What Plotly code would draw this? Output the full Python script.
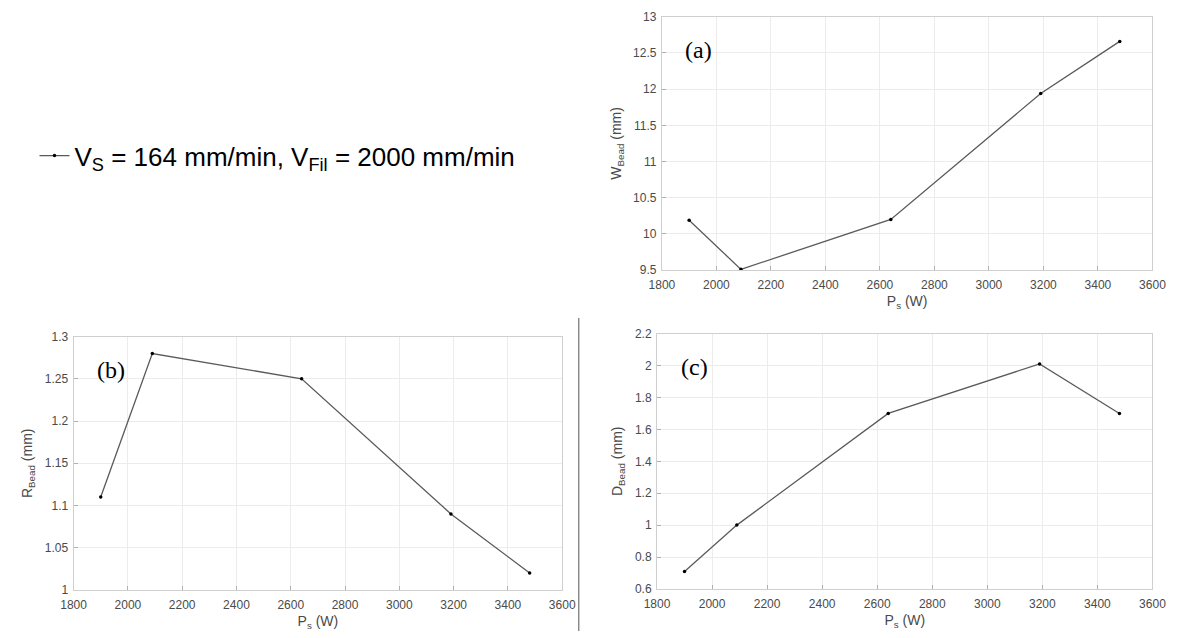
import plotly.graph_objects as go

# ---- data ----
ps_w = [1900, 2090, 2640, 3190, 3480]
w_bead = [10.19, 9.51, 10.20, 11.94, 12.66]
r_bead = [1.11, 1.28, 1.25, 1.09, 1.02]
d_bead = [0.71, 1.00, 1.70, 2.01, 1.70]

x_ticks = [1800, 2000, 2200, 2400, 2600, 2800, 3000, 3200, 3400, 3600]
w_ticks = [9.5, 10, 10.5, 11, 11.5, 12, 12.5, 13]
r_ticks = [1, 1.05, 1.1, 1.15, 1.2, 1.25, 1.3]
d_ticks = [0.6, 0.8, 1, 1.2, 1.4, 1.6, 1.8, 2, 2.2]

legend_name = "V<sub>S</sub> = 164 mm/min, V<sub>Fil</sub> = 2000 mm/min"

W, H = 1186, 638
LINE = "#5a5a5a"
TICKC = "#4a4a4a"
BOX = "#cfcfcf"
GRID = "#ececec"
SANS = "Liberation Sans, Arial, sans-serif"
SERIF = "Liberation Serif, Times New Roman, serif"

fig = go.Figure()

def add_series(y, xa, ya, show):
    fig.add_trace(go.Scatter(
        x=ps_w, y=y, xaxis=xa, yaxis=ya, mode="lines+markers",
        line=dict(color=LINE, width=1.3),
        marker=dict(color="#000000", size=3.5),
        name=legend_name, showlegend=show,
    ))

add_series(w_bead, "x", "y", True)
add_series(r_bead, "x2", "y2", False)
add_series(d_bead, "x3", "y3", False)

def px_dom_x(a, b):
    return [a / W, b / W]

def px_dom_y(top, bottom):
    return [1 - bottom / H, 1 - top / H]

def xaxis(dom, anchor):
    return dict(
        domain=dom, anchor=anchor, range=[1800, 3600], tickvals=x_ticks,
        showgrid=True, gridcolor=GRID, gridwidth=1, zeroline=False,
        showline=True, linecolor=BOX, linewidth=1, mirror=True,
        ticks="inside", ticklen=4, tickcolor="#b0b0b0",
        tickfont=dict(family=SANS, size=12, color=TICKC),
        ticklabelstandoff=4,
        title=dict(text="P<sub>s</sub> (W)", standoff=4,
                   font=dict(family=SANS, size=14, color=TICKC)),
    )

def yaxis(dom, anchor, rng, tv, title):
    return dict(
        domain=dom, anchor=anchor, range=rng, tickvals=tv,
        showgrid=True, gridcolor=GRID, gridwidth=1, zeroline=False,
        showline=True, linecolor=BOX, linewidth=1, mirror=True,
        ticks="inside", ticklen=4, tickcolor="#b0b0b0",
        tickfont=dict(family=SANS, size=12, color=TICKC),
        ticklabelstandoff=2,
        title=dict(text=title, standoff=8,
                   font=dict(family=SANS, size=14, color=TICKC)),
    )

fig.update_layout(
    width=W, height=H,
    margin=dict(l=0, r=0, t=0, b=0),
    paper_bgcolor="white", plot_bgcolor="white",
    xaxis=xaxis(px_dom_x(664, 1166), "y"),
    yaxis=yaxis(px_dom_y(10, 269), "x", [9.5, 13], w_ticks, "W<sub>Bead</sub> (mm)"),
    xaxis2=xaxis(px_dom_x(62, 562), "y2"),
    yaxis2=yaxis(px_dom_y(337, 596), "x2", [1, 1.3], r_ticks, "R<sub>Bead</sub> (mm)"),
    xaxis3=xaxis(px_dom_x(659, 1166), "y3"),
    yaxis3=yaxis(px_dom_y(334, 595), "x3", [0.6, 2.2], d_ticks, "D<sub>Bead</sub> (mm)"),
    showlegend=True,
    legend=dict(
        x=22 / W, y=1 - 152 / H, xanchor="left", yanchor="middle",
        bgcolor="rgba(0,0,0,0)", borderwidth=0, itemwidth=30,
        font=dict(family=SANS, size=26, color="#000000"),
    ),
)

# panel labels
for xr, yr, lab in [("x domain", "y domain", "(a)"),
                    ("x2 domain", "y2 domain", "(b)"),
                    ("x3 domain", "y3 domain", "(c)")]:
    fig.add_annotation(
        x=0.044, y=0.87, xref=xr, yref=yr, xanchor="left", yanchor="middle",
        text=lab, showarrow=False,
        font=dict(family=SERIF, size=24, color="#000000"),
    )

# vertical separator between panels (b) and (c)
fig.add_shape(type="line", xref="paper", yref="paper",
              x0=579 / W, x1=579 / W, y0=0, y1=1 - 318 / H,
              line=dict(color="#555555", width=1))

fig.write_html("out.html",
               config={"displayModeBar": False},
               post_script="document.body.style.margin='0px';document.body.style.overflow='hidden';")
